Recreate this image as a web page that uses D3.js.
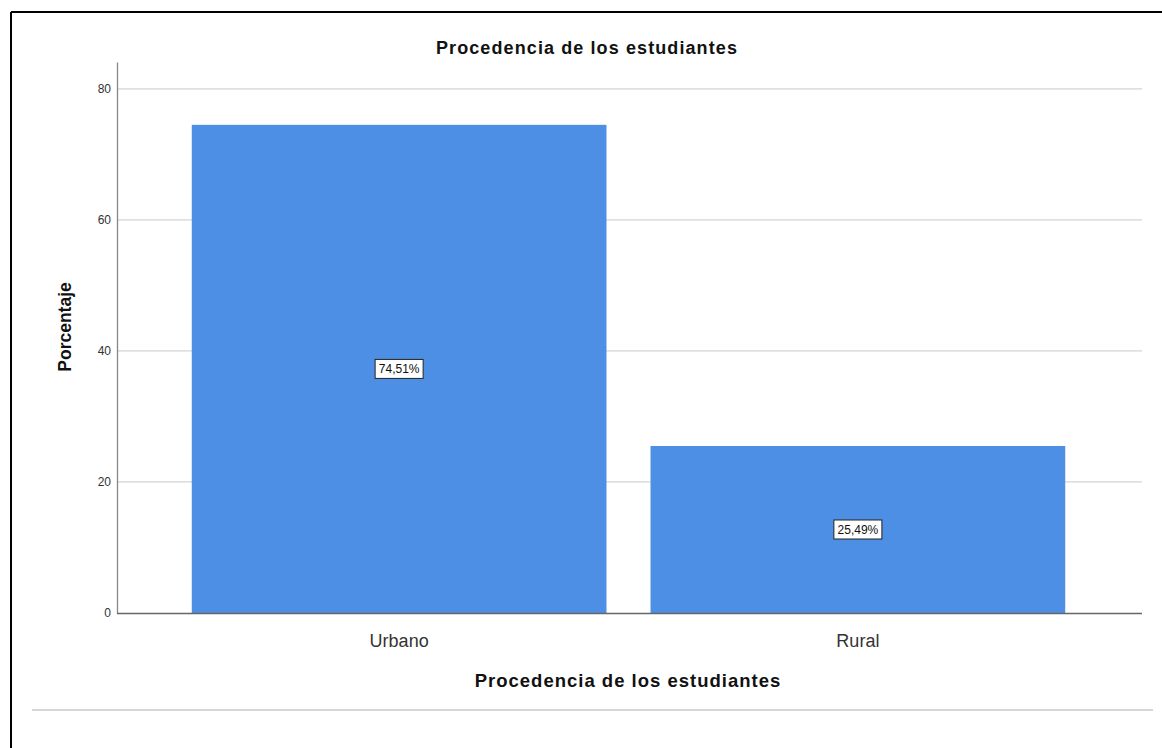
<!DOCTYPE html>
<html>
<head>
<meta charset="utf-8">
<script src="https://cdn.jsdelivr.net/npm/d3@7"></script>
<style>
  body { margin: 0; background: #fff; }
  svg { display: block; font-family: "Liberation Sans", Arial, sans-serif; }
</style>
</head>
<body>
<script>
// data
var categories = ["Urbano", "Rural"];
var percents = [74.51, 25.49];
var labels = ["74,51%", "25,49%"];
var yTicks = [0, 20, 40, 60, 80];

var width = 1162, height = 748;
var plotLeft = 117, plotRight = 1140, plotTop = 62, plotBottom = 613;

var svg = d3.select("body").append("svg")
    .attr("width", width)
    .attr("height", height);

// frame lines (top + left only, like the cropped original)
svg.append("line")
    .attr("x1", 11).attr("x2", width).attr("y1", 12).attr("y2", 12)
    .attr("stroke", "#000").attr("stroke-width", 2);
svg.append("line")
    .attr("x1", 11).attr("x2", 11).attr("y1", 12).attr("y2", height)
    .attr("stroke", "#000").attr("stroke-width", 2);

var x = d3.scaleBand()
    .domain(categories)
    .range([plotLeft, plotRight])
    .paddingInner(0.096)
    .paddingOuter(0.163);

var y = d3.scaleLinear()
    .domain([0, 84.1])
    .range([plotBottom, plotTop]);

// gridlines
svg.append("g")
  .selectAll("line")
  .data(yTicks.slice(1))
  .join("line")
    .attr("x1", plotLeft).attr("x2", 1142)
    .attr("y1", d => y(d)).attr("y2", d => y(d))
    .attr("stroke", "#d4d4d4")
    .attr("stroke-width", 1.2);

// bars
svg.append("g")
  .selectAll("rect")
  .data(percents)
  .join("rect")
    .attr("x", (d, i) => x(categories[i]))
    .attr("y", d => y(d))
    .attr("width", x.bandwidth())
    .attr("height", d => y(0) - y(d))
    .attr("fill", "#4d8fe4");

// y axis
var yAxis = d3.axisLeft(y).tickValues(yTicks).tickSize(0).tickPadding(6);
var gy = svg.append("g").attr("transform", `translate(${plotLeft},0)`).call(yAxis);
gy.select(".domain").attr("stroke", "#888").attr("stroke-width", 1.3);
gy.selectAll("text").attr("font-size", 12).attr("fill", "#333")
    .attr("font-family", "Liberation Sans, Arial, sans-serif");

// x axis
var xAxis = d3.axisBottom(x).tickSize(0).tickPadding(21);
var gx = svg.append("g").attr("transform", `translate(0,${plotBottom})`).call(xAxis);
gx.select(".domain").attr("d", `M${plotLeft},0.5H1142`).attr("stroke", "#666").attr("stroke-width", 1.3);
gx.selectAll("text").attr("font-size", 18).attr("fill", "#333")
    .attr("font-family", "Liberation Sans, Arial, sans-serif");

// value labels in the middle of each bar
var lab = svg.append("g")
  .selectAll("g")
  .data(percents)
  .join("g")
    .attr("transform", (d, i) => `translate(${x(categories[i]) + x.bandwidth() / 2},${y(d / 2)})`);

lab.append("rect")
    .attr("x", -24).attr("y", -9.5)
    .attr("width", 48).attr("height", 19)
    .attr("fill", "#fff")
    .attr("stroke", "#222")
    .attr("stroke-width", 1);

lab.append("text")
    .attr("text-anchor", "middle")
    .attr("dy", "0.35em")
    .attr("font-size", 12)
    .attr("fill", "#111")
    .text((d, i) => labels[i]);

// titles
svg.append("text")
    .attr("x", 587).attr("y", 54)
    .attr("text-anchor", "middle")
    .attr("font-size", 18).attr("font-weight", "bold").attr("fill", "#111")
    .attr("letter-spacing", 1.1)
    .text("Procedencia de los estudiantes");

svg.append("text")
    .attr("x", 628).attr("y", 687)
    .attr("text-anchor", "middle")
    .attr("font-size", 18.5).attr("font-weight", "bold").attr("fill", "#111")
    .attr("letter-spacing", 1)
    .text("Procedencia de los estudiantes");

svg.append("text")
    .attr("transform", "translate(71,327) rotate(-90)")
    .attr("text-anchor", "middle")
    .attr("font-size", 17.5).attr("font-weight", "bold").attr("fill", "#111")
    .text("Porcentaje");

// bottom separator
svg.append("line")
    .attr("x1", 32).attr("x2", 1153).attr("y1", 710).attr("y2", 710)
    .attr("stroke", "#c8c8c8").attr("stroke-width", 1.5);
</script>
</body>
</html>
